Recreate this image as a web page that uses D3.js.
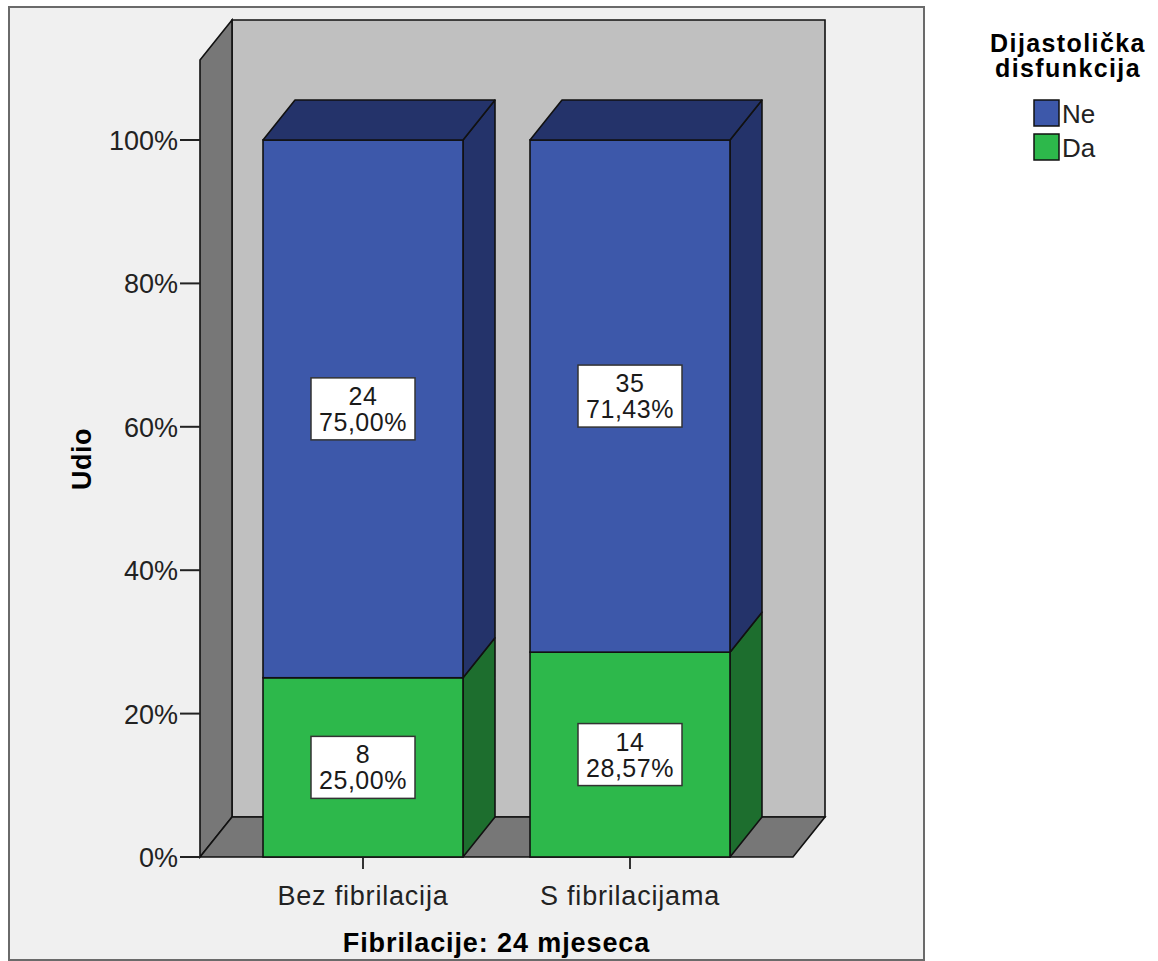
<!DOCTYPE html>
<html>
<head>
<meta charset="utf-8">
<script src="https://cdn.jsdelivr.net/npm/d3@7"></script>
<style>
  html, body { margin: 0; padding: 0; background: #ffffff; }
  svg { display: block; }
  text { font-family: "Liberation Sans", Arial, sans-serif; fill: #000; }
</style>
</head>
<body>
<svg id="chart" width="1158" height="961"></svg>
<script>
// ---- data ----
const categories = ["Bez fibrilacija", "S fibrilacijama"];
const seriesNames = ["Ne", "Da"];
const countsNe = [24, 35];
const countsDa = [8, 14];
const percentNe = [75.00, 71.43];
const percentDa = [25.00, 28.57];
const yTicks = [0, 20, 40, 60, 80, 100];
const xTitle = "Fibrilacije: 24 mjeseca";
const yTitle = "Udio";
const legendTitle = ["Dijastolička", "disfunkcija"];

// ---- layout ----
const svg = d3.select("#chart");
const frame = { x: 9, y: 7, w: 915, h: 953 };
const floorY = 857, topY = 140;
const depth = { dx: 32, dy: -40 };
const plotLeft = 200, plotRight = 793;
const wallTop = 20;

const colors = {
  Ne: { front: "#3d58aa", side: "#24336a", top: "#24336a" },
  Da: { front: "#2db84b", side: "#1d6e2e", top: "#1d6e2e" }
};

const y = d3.scaleLinear().domain([0, 100]).range([floorY, topY]);
const x = d3.scaleBand().domain(categories).range([plotLeft, plotRight])
  .paddingInner(0.251).paddingOuter(0.236);

// frame
svg.append("rect").attr("x", frame.x).attr("y", frame.y)
  .attr("width", frame.w).attr("height", frame.h)
  .attr("fill", "#f0f0f0").attr("stroke", "#6a6a6a").attr("stroke-width", 2);

const stroke = "#111";
const sw = 1.6;
const poly = pts => "M" + pts.map(p => p.join(",")).join("L") + "Z";

// back wall
svg.append("path")
  .attr("d", poly([[plotLeft + depth.dx, wallTop], [plotRight + depth.dx, wallTop],
                   [plotRight + depth.dx, floorY + depth.dy], [plotLeft + depth.dx, floorY + depth.dy]]))
  .attr("fill", "#c0c0c0").attr("stroke", stroke).attr("stroke-width", sw);
// side wall
svg.append("path")
  .attr("d", poly([[plotLeft, wallTop - depth.dy], [plotLeft + depth.dx, wallTop],
                   [plotLeft + depth.dx, floorY + depth.dy], [plotLeft, floorY]]))
  .attr("fill", "#777777").attr("stroke", stroke).attr("stroke-width", sw);
// floor
svg.append("path")
  .attr("d", poly([[plotLeft, floorY], [plotLeft + depth.dx, floorY + depth.dy],
                   [plotRight + depth.dx, floorY + depth.dy], [plotRight, floorY]]))
  .attr("fill", "#777777").attr("stroke", stroke).attr("stroke-width", sw);

// bars
const stacks = categories.map((c, i) => ({
  cat: c,
  segs: [
    { key: "Da", v0: 0, v1: percentDa[i], n: countsDa[i], p: percentDa[i] },
    { key: "Ne", v0: percentDa[i], v1: percentDa[i] + percentNe[i], n: countsNe[i], p: percentNe[i] }
  ]
}));

const fmt = v => v.toFixed(2).replace(".", ",") + "%";

stacks.forEach(st => {
  const x0 = x(st.cat), x1 = x0 + x.bandwidth();
  st.segs.forEach((s, j) => {
    const yt = y(s.v1), yb = y(s.v0);
    const c = colors[s.key];
    // side
    svg.append("path")
      .attr("d", poly([[x1, yb], [x1, yt], [x1 + depth.dx, yt + depth.dy], [x1 + depth.dx, yb + depth.dy]]))
      .attr("fill", c.side).attr("stroke", stroke).attr("stroke-width", sw).attr("stroke-linejoin", "round");
    // front
    svg.append("rect").attr("x", x0).attr("y", yt).attr("width", x1 - x0).attr("height", yb - yt)
      .attr("fill", c.front).attr("stroke", stroke).attr("stroke-width", sw);
    if (j === st.segs.length - 1) {
      svg.append("path")
        .attr("d", poly([[x0, yt], [x0 + depth.dx, yt + depth.dy], [x1 + depth.dx, yt + depth.dy], [x1, yt]]))
        .attr("fill", c.top).attr("stroke", stroke).attr("stroke-width", sw).attr("stroke-linejoin", "round");
    }
  });
  // labels
  st.segs.forEach(s => {
    const cx = (x0 + x1) / 2, cy = (y(s.v0) + y(s.v1)) / 2;
    const g = svg.append("g").attr("transform", `translate(${cx},${cy})`);
    g.append("rect").attr("x", -52).attr("y", -31).attr("width", 104).attr("height", 62)
      .attr("fill", "#ffffff").attr("stroke", "#333").attr("stroke-width", 1.5);
    g.append("text").attr("text-anchor", "middle").attr("y", -4)
      .style("font-size", "25px").style("letter-spacing", "0.5px").style("fill", "#1a1a1a").text(s.n);
    g.append("text").attr("text-anchor", "middle").attr("y", 22)
      .style("font-size", "25px").style("letter-spacing", "0.5px").style("fill", "#1a1a1a").text(fmt(s.p));
  });
});

// y axis ticks
const yAxis = svg.append("g");
yTicks.forEach(t => {
  yAxis.append("line").attr("x1", 180).attr("x2", plotLeft).attr("y1", y(t)).attr("y2", y(t))
    .attr("stroke", "#222").attr("stroke-width", 2);
  yAxis.append("text").attr("x", 178).attr("y", y(t) + 10).attr("text-anchor", "end")
    .style("font-size", "27px").style("fill", "#222").text(t + "%");
});

// x axis ticks
categories.forEach(c => {
  const cx = x(c) + x.bandwidth() / 2;
  svg.append("line").attr("x1", cx).attr("x2", cx).attr("y1", floorY + 1).attr("y2", floorY + 12)
    .attr("stroke", "#333").attr("stroke-width", 2);
  svg.append("text").attr("x", cx).attr("y", 905).attr("text-anchor", "middle")
    .style("font-size", "27px").style("letter-spacing", "0.8px").style("fill", "#222").text(c);
});

// titles
svg.append("text").attr("x", (plotLeft + plotRight) / 2).attr("y", 952).attr("text-anchor", "middle")
  .style("font-size", "27px").style("font-weight", "bold").style("letter-spacing", "0.9px").text(xTitle);
svg.append("text").attr("transform", "translate(91,459) rotate(-90)").attr("text-anchor", "middle")
  .style("font-size", "27px").style("font-weight", "bold").style("letter-spacing", "0.5px").text(yTitle);

// legend
const lg = svg.append("g");
legendTitle.forEach((t, i) => {
  lg.append("text").attr("x", 1068).attr("y", 52 + i * 25).attr("text-anchor", "middle")
    .style("font-size", "25px").style("font-weight", "bold").style("letter-spacing", "1.4px").text(t);
});
seriesNames.forEach((s, i) => {
  const yy = 100 + i * 34;
  lg.append("rect").attr("x", 1034).attr("y", yy).attr("width", 25).attr("height", 26)
    .attr("fill", colors[s].front).attr("stroke", "#111").attr("stroke-width", 1.5);
  lg.append("text").attr("x", 1062).attr("y", yy + 23)
    .style("font-size", "26px").style("fill", "#222").text(s);
});
</script>
</body>
</html>
